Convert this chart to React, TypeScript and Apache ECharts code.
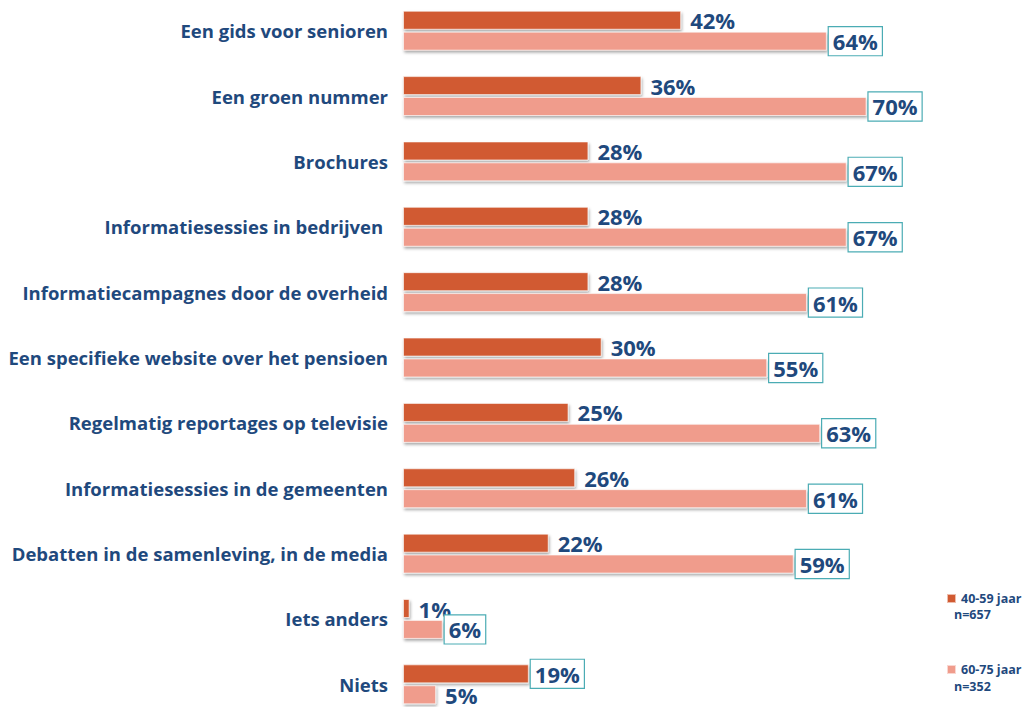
import React, { useEffect, useRef } from "react";
import * as echarts from "echarts";

const categories = [
  "Een gids voor senioren",
  "Een groen nummer",
  "Brochures",
  "Informatiesessies in bedrijven ",
  "Informatiecampagnes door de overheid",
  "Een specifieke website over het pensioen",
  "Regelmatig reportages op televisie",
  "Informatiesessies in de gemeenten",
  "Debatten in de samenleving, in de media",
  "Iets anders",
  "Niets",
];
const seriesNames = ["40-59 jaar", "60-75 jaar"];
const sampleSizes = ["n=657", "n=352"];
const young = [42, 36, 28, 28, 28, 30, 25, 26, 22, 1, 19];
const old = [64, 70, 67, 67, 61, 55, 63, 61, 59, 6, 5];

const TEXT = "#1F497D";
const FONT = "'Open Sans', 'Liberation Sans', sans-serif";
const ORANGE = "#D15A31";
const PINK = "#F09C8C";
const BOX = "#4BACB4";

const plainLabel = { distance: 9, padding: 0, borderWidth: 0, lineHeight: 16 };
const boxedLabel = {
  distance: 2,
  borderColor: BOX,
  borderWidth: 1.2,
  padding: [4, 4, 2, 4],
  lineHeight: 22,
  backgroundColor: "#ffffff",
};

function buildData(values: number[], other: number[]) {
  return values.map((v, i) => ({
    value: v,
    label: v > other[i] ? boxedLabel : plainLabel,
  }));
}

export default function App() {
  const ref = useRef<HTMLDivElement>(null);
  useEffect(() => {
    if (!ref.current) return;
    const chart = echarts.init(ref.current, null, { renderer: "svg" });
    const itemStyleBase = {
      shadowColor: "rgba(0,0,0,0.35)",
      shadowBlur: 3,
      shadowOffsetX: 1,
      shadowOffsetY: 2,
      borderColor: "rgba(255,255,255,0.6)",
      borderWidth: 1,
    };
    const labelBase = {
      show: true,
      position: "right",
      formatter: "{c}%",
      color: TEXT,
      fontSize: 22,
      fontWeight: "bold",
      fontFamily: FONT,
    };
    const smallText = {
      fill: TEXT,
      fontSize: 12.5,
      fontWeight: "bold",
      fontFamily: FONT,
    };
    chart.setOption({
      animation: false,
      backgroundColor: "#ffffff",
      grid: {
        left: 403,
        right: 24,
        top: -2,
        bottom: -10,
        containLabel: false,
        outerBoundsMode: "none",
      },
      xAxis: {
        type: "value",
        min: 0,
        max: 90,
        show: false,
      },
      yAxis: {
        type: "category",
        data: categories,
        inverse: true,
        axisLine: { show: false },
        axisTick: { show: false },
        splitLine: { show: false },
        axisLabel: {
          color: TEXT,
          fontSize: 18.5,
          fontWeight: "bold",
          fontFamily: FONT,
          margin: 15,
        },
      },
      legend: {
        orient: "vertical",
        left: 941,
        top: 586,
        itemWidth: 9,
        itemHeight: 9,
        itemGap: 56,
        icon: "rect",
        data: seriesNames,
        textStyle: {
          color: TEXT,
          fontSize: 12.5,
          lineHeight: 15,
          fontWeight: "bold",
          fontFamily: FONT,
        },
      },
      graphic: [
        {
          type: "text",
          left: 954,
          top: 608,
          style: { text: sampleSizes[0], ...smallText },
        },
        {
          type: "text",
          left: 954,
          top: 680,
          style: { text: sampleSizes[1], ...smallText },
        },
      ],
      series: [
        {
          name: seriesNames[0],
          type: "bar",
          barWidth: 19,
          barGap: "10%",
          itemStyle: { color: ORANGE, ...itemStyleBase },
          label: labelBase,
          data: buildData(young, old),
        },
        {
          name: seriesNames[1],
          type: "bar",
          barWidth: 19,
          barGap: "10%",
          itemStyle: { color: PINK, ...itemStyleBase },
          label: labelBase,
          data: buildData(old, young),
        },
      ],
    });
    return () => chart.dispose();
  }, []);
  return (
    <div
      ref={ref}
      style={{ position: "fixed", left: 0, top: 0, width: 1023, height: 707 }}
    />
  );
}
